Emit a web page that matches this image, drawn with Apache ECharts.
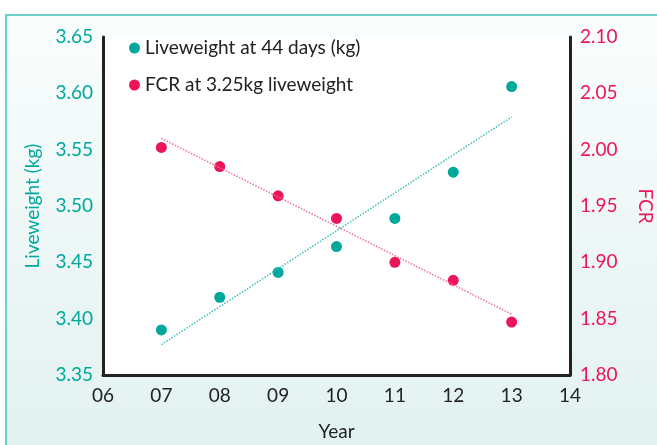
<!DOCTYPE html>
<html>
<head>
<meta charset="utf-8">
<script src="https://cdn.jsdelivr.net/npm/echarts@6/dist/echarts.min.js"></script>
<style>
    html, body { margin: 0; padding: 0; background: #fff; }
    #wrap { position: relative; width: 657px; height: 445px; overflow: hidden; }
    #frame {
        position: absolute; left: 5px; top: 14px; width: 660px; height: 440px;
        border-left: 2px solid #6fd0c7; border-top: 2px solid #6fd0c7;
        background: linear-gradient(#fafdfd, #e1f1f0);
    }
    #chart { position: absolute; left: 0; top: 0; width: 657px; height: 445px; }
</style>
</head>
<body>
<div id="wrap">
    <div id="frame"></div>
    <div id="chart"></div>
</div>
<script>
// 数据
var years = [7, 8, 9, 10, 11, 12, 13];
var xTickLabels = ['06', '07', '08', '09', '10', '11', '12', '13', '14'];
var liveweight = [3.390, 3.419, 3.441, 3.464, 3.489, 3.530, 3.606];
var fcr = [2.002, 1.985, 1.959, 1.939, 1.900, 1.884, 1.847];
// 趋势线端点
var lwTrend = [[7, 3.377], [13, 3.579]];
var fcrTrend = [[7, 2.010], [13, 1.854]];

var teal = '#00a89c';
var pink = '#ec1559';
var font = 'Lato';

function pairs(xs, ys) {
    return xs.map(function (x, i) { return [x, ys[i]]; });
}

var option = {
    animation: false,
    textStyle: { fontFamily: font },
    grid: {
        left: 103, right: 87, top: 37, bottom: 70,
        outerBoundsMode: 'none', containLabel: false,
        show: true, backgroundColor: '#fff', borderWidth: 0
    },
    legend: {
        orient: 'vertical', left: 124, top: 33,
        itemWidth: 11, itemHeight: 11, itemGap: 17,
        data: [
            { name: 'Liveweight at 44 days (kg)', icon: 'circle' },
            { name: 'FCR at 3.25kg liveweight', icon: 'circle' }
        ],
        textStyle: { color: '#222', fontSize: 19, lineHeight: 20, fontFamily: font }
    },
    xAxis: {
        type: 'value', min: 6, max: 14, interval: 1,
        name: 'Year', nameLocation: 'middle', nameGap: 47,
        nameTextStyle: { color: '#222', fontSize: 19, fontFamily: font },
        axisLine: { lineStyle: { color: '#222', width: 3 } },
        axisTick: { show: false },
        splitLine: { show: false },
        axisLabel: {
            color: '#222', fontSize: 19, margin: 11,
            formatter: function (v) { return xTickLabels[v - 6]; }
        }
    },
    yAxis: [{
        type: 'value', min: 3.35, max: 3.65, interval: 0.05, position: 'left',
        name: 'Liveweight (kg)', nameLocation: 'middle', nameGap: 61, nameRotate: 90,
        nameTextStyle: { color: teal, fontSize: 19, fontFamily: font },
        axisLine: { show: true, lineStyle: { color: '#222', width: 3 } },
        axisTick: { show: false },
        splitLine: { show: false },
        axisLabel: {
            color: teal, fontSize: 19, margin: 10,
            formatter: function (v) { return v.toFixed(2); }
        }
    }, {
        type: 'value', min: 1.80, max: 2.10, interval: 0.05, position: 'right',
        name: 'FCR', nameLocation: 'middle', nameGap: 66, nameRotate: -90,
        nameTextStyle: { color: pink, fontSize: 19, fontFamily: font },
        axisLine: { show: true, lineStyle: { color: '#222', width: 3 } },
        axisTick: { show: false },
        splitLine: { show: false },
        axisLabel: {
            color: pink, fontSize: 19, margin: 10,
            formatter: function (v) { return v.toFixed(2); }
        }
    }],
    series: [{
        name: 'Liveweight trend', type: 'line', yAxisIndex: 0,
        data: lwTrend, symbol: 'none', silent: true,
        lineStyle: { color: '#3dc1b6', width: 1.5, type: [1.5, 1.5] }
    }, {
        name: 'FCR trend', type: 'line', yAxisIndex: 1,
        data: fcrTrend, symbol: 'none', silent: true,
        lineStyle: { color: '#f06f95', width: 1.5, type: [1.5, 1.5] }
    }, {
        name: 'Liveweight at 44 days (kg)', type: 'scatter', yAxisIndex: 0,
        data: pairs(years, liveweight), symbolSize: 11,
        itemStyle: { color: teal, opacity: 1 }
    }, {
        name: 'FCR at 3.25kg liveweight', type: 'scatter', yAxisIndex: 1,
        data: pairs(years, fcr), symbolSize: 11,
        itemStyle: { color: pink, opacity: 1 }
    }]
};

var mychart = echarts.init(document.getElementById('chart'));
mychart.setOption(option);
</script>
</body>
</html>
